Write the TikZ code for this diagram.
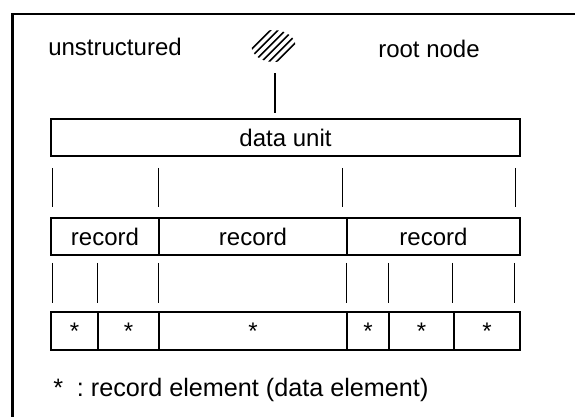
\documentclass[tikz,border=0pt]{standalone}
\usepackage{fontspec}
\setmainfont{Liberation Sans}
\usepackage{tikz}
\usetikzlibrary{positioning,
				calc}

\tikzset{
	cellbox/.style={draw, line width=1pt, inner sep=0pt, outer sep=0pt, minimum height=18.5pt},
	link/.style={line width=0.5pt},
	hatchline/.style={line width=0.8pt},
}

\begin{document}
\begin{tikzpicture}[x=0.5pt, y=-0.5pt, font=\fontsize{12}{14}\selectfont]
		\useasboundingbox (0,0) rectangle (575,417);
		\draw[line width=1.1pt] (12.5,417) -- (12.5,14) -- (575,14);

		\node (unstr) at (115,47) {unstructured};
		\node (rootlabel) at (429,49) {root node};

		% the hatched root
		\node[inner sep=0pt, minimum width=22pt, minimum height=16pt] (root) at (273.5,46) {};
		\begin{scope}
			\clip (root.center) ellipse (11pt and 8pt);
			\foreach \d in {-18.75,-11.25,-3.75,3.75,11.25,18.75}
				\draw[hatchline] ($(root.center)+(\d-25,25)$) -- ++(50,-50);
		\end{scope}

		\node[cellbox, minimum width=234.5pt] (du) at (285.5,137.5) {data unit};

		\node[cellbox, minimum width=54pt] (r1) at (105,236.5) {record};
		\node[cellbox, minimum width=94pt, right=0pt of r1] (r2) {record};
		\node[cellbox, minimum width=86.5pt, right=0pt of r2] (r3) {record};

		\node[cellbox, minimum width=23.5pt, minimum height=19pt] (e1) at (74.5,331) {*};
		\node[cellbox, minimum width=30.5pt, minimum height=19pt, right=0pt of e1] (e2) {*};
		\node[cellbox, minimum width=94pt, minimum height=19pt, right=0pt of e2] (e3) {*};
		\node[cellbox, minimum width=21pt, minimum height=19pt, right=0pt of e3] (e4) {*};
		\node[cellbox, minimum width=32.5pt, minimum height=19pt, right=0pt of e4] (e5) {*};
		\node[cellbox, minimum width=33pt, minimum height=19pt, right=0pt of e5] (e6) {*};

		\draw[line width=0.9pt] ($(root.south)+(1.5,11)$) -- ($(root.south |- du.north)+(1.5,-6)$);

		\draw[link] ($(du.south -| r1.west)+(2,12)$) -- ($(r1.north west)+(2,-11)$);
		\draw[link] ($(du.south -| r2.west)+(0,12)$) -- ($(r2.north west)+(0,-11)$);
		\draw[link] ($(du.south -| r3.west)+(-4,12)$) -- ($(r3.north west)+(-4,-11)$);
		\draw[link] ($(du.south -| r3.east)+(-4,12)$) -- ($(r3.north east)+(-4,-11)$);

		\draw[link] ($(r1.south -| e1.west)+(2,8)$) -- ($(e1.north west)+(2,-9)$);
		\draw[link] ($(r1.south -| e2.west)+(0,8)$) -- ($(e2.north west)+(0,-9)$);
		\draw[link] ($(r1.south -| e3.west)+(0,8)$) -- ($(e3.north west)+(0,-9)$);
		\draw[link] ($(r3.south -| e4.west)+(0,8)$) -- ($(e4.north west)+(0,-9)$);
		\draw[link] ($(r3.south -| e5.west)+(0,8)$) -- ($(e5.north west)+(0,-9)$);
		\draw[link] ($(r3.south -| e6.west)+(-1,8)$) -- ($(e6.north west)+(-1,-9)$);
		\draw[link] ($(r3.south -| e6.east)+(-5,8)$) -- ($(e6.north east)+(-5,-9)$);

		\node[anchor=base west, inner sep=0pt, font=\fontsize{12.6}{15}\selectfont] (legend) at (53,397) {*\hspace{6.85pt}:\ record element (data element)};
	\end{tikzpicture}
\end{document}
